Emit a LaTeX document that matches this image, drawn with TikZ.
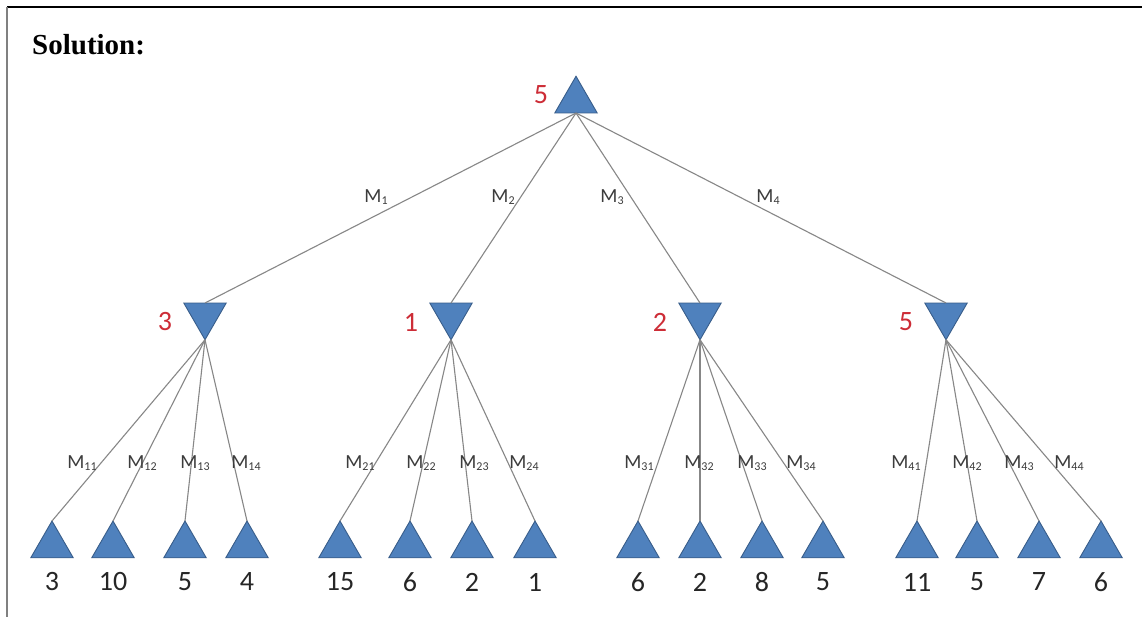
\documentclass[tikz,border=0pt]{standalone}
\usepackage{fontspec}
\setmainfont{Liberation Serif}
\newfontfamily\calib{Carlito}
\usetikzlibrary{shapes.geometric}
\definecolor{triblue}{RGB}{79,129,189}
\definecolor{triedge}{RGB}{56,93,138}
\definecolor{valred}{RGB}{205,45,55}
\definecolor{edgegray}{RGB}{135,135,135}
\definecolor{lbl}{RGB}{60,60,60}
\newcommand{\msub}[1]{{\fontsize{12}{12}\selectfont\raisebox{-0.45ex}{#1}}}
\tikzset{
  upnode/.style={regular polygon, regular polygon sides=3, minimum size=49pt,
    inner sep=0pt, outer sep=0pt, fill=triblue, draw=triedge, line width=0.9pt},
  downnode/.style={upnode, shape border rotate=180},
  link/.style={draw=edgegray, line width=1.1pt},
  value/.style={font=\calib\fontsize{28}{30}\selectfont, text=black!85, inner sep=0pt},
  redval/.style={font=\calib\fontsize{28}{30}\selectfont, text=valred, inner sep=0pt},
  mlab/.style={font=\calib\fontsize{20}{22}\selectfont, text=lbl, inner sep=0pt},
}
\begin{document}
\begin{tikzpicture}[x=1pt,y=-1pt]
\useasboundingbox (0,0) rectangle (1142,617);
\fill[white] (0,0) rectangle (1142,617);
\draw[line width=2pt] (7,7) -- (1142,7);
\draw[gray, line width=2pt] (7,7) -- (7,617);
\node[anchor=base west, font=\bfseries\fontsize{29}{32}\selectfont, inner sep=0pt] (title) at (32,55) {Solution:};

% root
\node[upnode, anchor=south] (r) at (576,113) {};
\node[redval] (rv) at (541,95) {5};

% level 1
\foreach \i/\x/\v in {1/205/3, 2/451/1, 3/700/2, 4/946/5} {
  \node[downnode, anchor=north] (n\i) at (\x,303) {};
  \node[redval] (v\i) at (\x-40,322) {\v};
  \draw[link] (r.south) -- (n\i.north);
}

% leaves
\foreach \i/\j/\x/\v in {
  1/1/52/3, 1/2/113/10, 1/3/185/5, 1/4/247/4,
  2/1/340/15, 2/2/410/6, 2/3/472/2, 2/4/535/1,
  3/1/638/6, 3/2/700/2, 3/3/762/8, 3/4/823/5,
  4/1/917/11, 4/2/977/5, 4/3/1039/7, 4/4/1101/6} {
  \node[upnode, anchor=north] (l\i\j) at (\x,521) {};
  \node[value] (w\i\j) at (\x,582) {\v};
  \draw[link] (n\i.south) -- (l\i\j.north);
}

% level-1 edge labels
\node[mlab] (m1) at (376,197) {M\msub{1}};
\node[mlab] (m2) at (503,197) {M\msub{2}};
\node[mlab] (m3) at (612,197) {M\msub{3}};
\node[mlab] (m4) at (768,197) {M\msub{4}};

% level-2 edge labels
\foreach \i/\j/\x in {
  1/1/82, 1/2/142, 1/3/195, 1/4/246,
  2/1/360, 2/2/421, 2/3/474, 2/4/524,
  3/1/639, 3/2/699, 3/3/752, 3/4/801,
  4/1/906, 4/2/967, 4/3/1019, 4/4/1069} {
  \node[mlab] (m\i\j) at (\x,463) {M\msub{\i\j}};
}
\end{tikzpicture}
\end{document}
